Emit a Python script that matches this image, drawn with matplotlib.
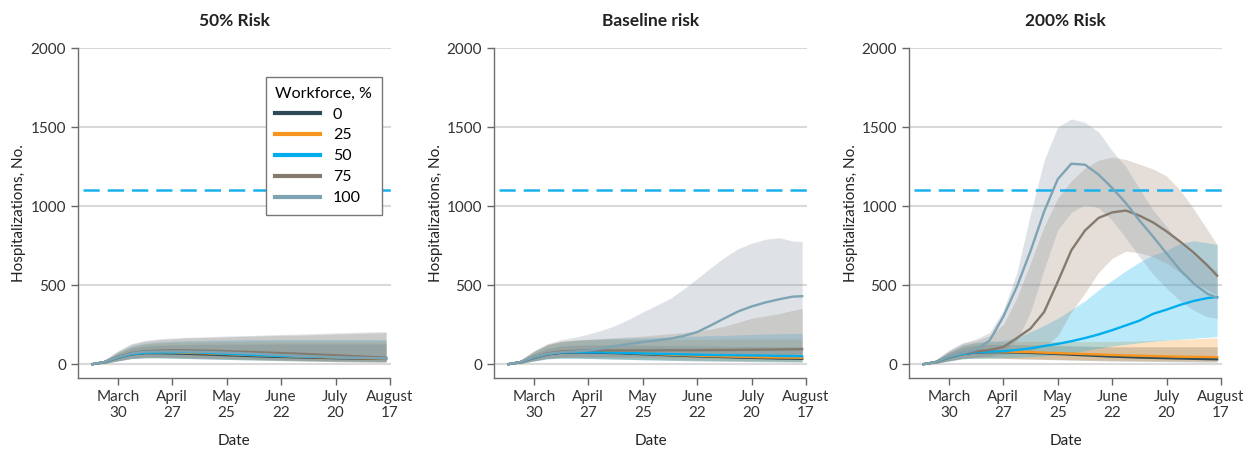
# hospitalization projections by workforce share, three risk scenarios
import numpy as np
import matplotlib
matplotlib.use("Agg")
import matplotlib.pyplot as plt

plt.rcParams['font.family'] = ['Lato', 'DejaVu Sans']

# days since March 30 (tick dates every 4 weeks)
days = [-13, -7, 0, 7, 14, 21, 28, 35, 42, 49, 56, 63, 70, 77, 84, 91, 98, 105, 112, 119, 126, 133, 138]
tick_days = [0, 28, 56, 84, 112, 140]
tick_labels = ["March\n30", "April\n27", "May\n25", "June\n22", "July\n20", "August\n17"]
capacity = 1105

titles = ["50% Risk", "Baseline risk", "200% Risk"]
workforce = ["0", "25", "50", "75", "100"]
line_colors = ["#2e4a56", "#f7941d", "#00aeef", "#857a6e", "#7ea3b3"]
band_colors = ["#3a4f58", "#f7941d", "#00aeef", "#9c8270", "#8597a4"]

# --- 50% risk
r50_med0 = [0, 12, 40, 62, 70, 70, 68, 66, 63, 60, 57, 54, 51, 48, 46, 44, 42, 40, 38, 37, 35, 34, 33]
r50_lo0 = [0, 5, 20, 35, 40, 40, 38, 36, 34, 32, 30, 28, 26, 24, 22, 20, 18, 17, 15, 14, 13, 12, 12]
r50_hi0 = [0, 20, 65, 100, 115, 120, 122, 124, 125, 126, 127, 127, 128, 128, 128, 128, 128, 128, 128, 128, 128, 128, 128]
r50_med25 = [0, 12, 42, 65, 74, 75, 74, 72, 70, 67, 64, 60, 57, 54, 51, 48, 46, 44, 42, 40, 38, 37, 36]
r50_lo25 = [0, 5, 22, 38, 42, 42, 40, 38, 36, 34, 32, 30, 28, 26, 24, 22, 21, 20, 19, 18, 17, 16, 16]
r50_hi25 = [0, 22, 72, 110, 128, 135, 138, 140, 142, 143, 144, 144, 145, 145, 145, 146, 146, 146, 146, 146, 146, 146, 146]
r50_med50 = [0, 12, 41, 63, 72, 74, 74, 76, 74, 70, 66, 62, 58, 55, 52, 50, 48, 46, 44, 43, 42, 40, 38]
r50_lo50 = [0, 5, 21, 36, 40, 40, 38, 36, 34, 32, 30, 28, 27, 26, 25, 24, 23, 22, 21, 20, 19, 18, 18]
r50_hi50 = [0, 24, 75, 115, 132, 140, 145, 148, 150, 152, 153, 154, 155, 155, 156, 156, 156, 156, 156, 156, 156, 156, 155]
r50_med75 = [0, 13, 45, 70, 82, 86, 87, 87, 86, 84, 82, 79, 76, 73, 70, 67, 64, 60, 56, 52, 48, 44, 40]
r50_lo75 = [0, 5, 22, 38, 44, 45, 44, 42, 40, 38, 36, 34, 32, 30, 28, 26, 24, 22, 20, 19, 18, 17, 17]
r50_hi75 = [0, 25, 80, 125, 145, 155, 160, 165, 168, 170, 172, 175, 177, 180, 182, 183, 185, 187, 190, 192, 195, 197, 200]
r50_med100 = [0, 13, 44, 68, 78, 80, 80, 80, 78, 76, 73, 70, 66, 62, 58, 54, 50, 47, 44, 42, 40, 38, 36]
r50_lo100 = [0, 5, 21, 36, 42, 43, 42, 40, 38, 36, 34, 32, 30, 28, 26, 24, 22, 20, 18, 17, 16, 15, 15]
r50_hi100 = [0, 26, 85, 130, 150, 160, 165, 170, 172, 175, 178, 180, 182, 185, 188, 190, 192, 195, 198, 200, 203, 205, 205]

# --- baseline risk
base_med0 = [0, 12, 40, 62, 72, 74, 74, 72, 70, 67, 63, 60, 56, 53, 50, 47, 45, 42, 40, 38, 36, 35, 34]
base_lo0 = [0, 5, 20, 34, 38, 38, 36, 34, 32, 30, 28, 26, 24, 22, 20, 19, 18, 17, 16, 15, 14, 13, 13]
base_hi0 = [0, 20, 65, 100, 115, 120, 122, 122, 122, 121, 120, 118, 117, 116, 115, 114, 113, 112, 112, 111, 110, 110, 110]
base_med25 = [0, 12, 42, 66, 78, 80, 80, 78, 75, 72, 68, 64, 60, 57, 54, 51, 49, 47, 45, 43, 42, 41, 40]
base_lo25 = [0, 5, 22, 38, 42, 42, 40, 38, 36, 34, 32, 30, 28, 26, 25, 24, 23, 22, 21, 20, 19, 18, 18]
base_hi25 = [0, 25, 80, 125, 145, 152, 155, 156, 157, 157, 157, 157, 157, 157, 157, 157, 158, 158, 158, 158, 158, 158, 158]
base_med50 = [0, 12, 41, 64, 74, 76, 76, 75, 73, 71, 68, 66, 64, 62, 60, 58, 57, 56, 55, 54, 52, 51, 50]
base_lo50 = [0, 5, 20, 34, 38, 38, 36, 34, 32, 30, 28, 27, 26, 25, 24, 23, 22, 21, 20, 19, 18, 17, 17]
base_hi50 = [0, 24, 78, 120, 140, 150, 155, 160, 163, 165, 168, 170, 172, 175, 178, 180, 182, 185, 188, 190, 192, 194, 195]
base_med75 = [0, 13, 44, 68, 80, 84, 86, 87, 87, 87, 87, 87, 88, 88, 88, 89, 89, 90, 91, 92, 93, 94, 95]
base_lo75 = [0, 5, 22, 38, 44, 46, 46, 46, 45, 44, 43, 42, 41, 40, 40, 39, 38, 38, 37, 36, 35, 34, 34]
base_hi75 = [0, 25, 82, 125, 145, 152, 158, 162, 168, 172, 178, 185, 192, 200, 210, 222, 240, 265, 290, 305, 320, 340, 352]
base_med100 = [0, 13, 45, 66, 76, 80, 86, 100, 115, 128, 140, 150, 161, 178, 203, 245, 290, 333, 365, 390, 410, 427, 430]
base_lo100 = [0, 5, 22, 38, 44, 46, 46, 47, 48, 49, 50, 51, 52, 53, 54, 55, 56, 57, 58, 59, 60, 60, 60]
base_hi100 = [0, 26, 85, 130, 155, 170, 190, 215, 245, 285, 330, 372, 415, 475, 542, 610, 675, 730, 765, 790, 800, 780, 775]

# --- 200% risk
r200_med0 = [0, 12, 42, 64, 74, 76, 76, 74, 71, 68, 64, 60, 56, 52, 48, 45, 42, 40, 38, 36, 34, 32, 31]
r200_lo0 = [0, 5, 20, 34, 38, 38, 36, 34, 32, 30, 28, 26, 24, 22, 20, 19, 18, 17, 16, 15, 14, 13, 13]
r200_hi0 = [0, 22, 70, 105, 120, 125, 125, 124, 122, 120, 118, 116, 114, 112, 110, 110, 110, 110, 110, 110, 110, 110, 110]
r200_med25 = [0, 12, 43, 66, 77, 80, 80, 78, 76, 73, 70, 67, 64, 61, 58, 55, 53, 51, 49, 47, 46, 45, 44]
r200_lo25 = [0, 5, 22, 36, 40, 40, 38, 36, 34, 32, 30, 28, 27, 26, 25, 24, 23, 22, 22, 21, 21, 20, 20]
r200_hi25 = [0, 24, 75, 115, 135, 140, 142, 143, 143, 143, 143, 143, 143, 143, 144, 145, 147, 150, 153, 157, 160, 164, 167]
r200_med50 = [0, 12, 42, 64, 75, 79, 82, 90, 100, 115, 128, 145, 165, 188, 215, 245, 275, 318, 345, 375, 400, 418, 425]
r200_lo50 = [0, 5, 20, 34, 38, 40, 42, 44, 48, 52, 60, 70, 85, 100, 115, 125, 135, 145, 152, 158, 164, 170, 175]
r200_hi50 = [0, 24, 78, 120, 138, 145, 150, 165, 205, 245, 290, 345, 400, 470, 530, 590, 645, 690, 720, 765, 780, 768, 757]
r200_med75 = [0, 12, 45, 70, 80, 90, 108, 165, 225, 330, 520, 720, 845, 925, 960, 972, 940, 897, 840, 775, 705, 625, 560]
r200_lo75 = [0, 5, 22, 38, 45, 50, 60, 70, 85, 110, 180, 330, 450, 580, 670, 715, 705, 680, 640, 580, 520, 470, 440]
r200_hi75 = [0, 25, 85, 130, 150, 180, 250, 420, 640, 870, 1050, 1160, 1240, 1290, 1310, 1295, 1265, 1235, 1190, 1100, 980, 850, 757]
r200_med100 = [0, 12, 48, 70, 92, 150, 300, 490, 715, 965, 1170, 1268, 1262, 1200, 1115, 1020, 910, 808, 700, 595, 510, 445, 420]
r200_lo100 = [0, 5, 22, 38, 45, 55, 80, 150, 330, 600, 850, 960, 1010, 990, 910, 800, 680, 570, 480, 400, 340, 300, 290]
r200_hi100 = [0, 26, 88, 135, 160, 200, 340, 580, 950, 1290, 1500, 1552, 1530, 1470, 1350, 1250, 1110, 975, 870, 760, 690, 620, 590]

panels = [
    [(r50_med0, r50_lo0, r50_hi0), (r50_med25, r50_lo25, r50_hi25), (r50_med50, r50_lo50, r50_hi50),
     (r50_med75, r50_lo75, r50_hi75), (r50_med100, r50_lo100, r50_hi100)],
    [(base_med0, base_lo0, base_hi0), (base_med25, base_lo25, base_hi25), (base_med50, base_lo50, base_hi50),
     (base_med75, base_lo75, base_hi75), (base_med100, base_lo100, base_hi100)],
    [(r200_med0, r200_lo0, r200_hi0), (r200_med25, r200_lo25, r200_hi25), (r200_med50, r200_lo50, r200_hi50),
     (r200_med75, r200_lo75, r200_hi75), (r200_med100, r200_lo100, r200_hi100)],
]

fig = plt.figure(figsize=(12.51, 4.49), dpi=100)
lefts = [0.0623, 0.3949, 0.7266]
axes = [fig.add_axes([l, 0.158, 0.2502, 0.735]) for l in lefts]

x = np.array(days)
for ax, title, series in zip(axes, titles, panels):
    for yv in [0, 500, 1000, 1500, 2000]:
        ax.axhline(yv, color="#d9d9d9", lw=1.5, zorder=0)
    for (med, lo, hi), bc in zip(series, band_colors):
        ax.fill_between(x, lo, hi, color=bc, alpha=0.27, lw=0, zorder=1)
    for (med, lo, hi), lc, lab in zip(series, line_colors, workforce):
        ax.plot(x, med, color=lc, lw=1.7, label=lab, zorder=3)
    ax.axhline(capacity, xmin=0.015, color="#1ab1ec", lw=1.8, ls=(0, (6.5, 3.2)), zorder=2)

    ax.set_xlim(-20.5, 140.5)
    ax.set_ylim(-88, 2000)
    ax.set_xticks(tick_days)
    ax.set_xticklabels(tick_labels, linespacing=1.2)
    ax.set_yticks([0, 500, 1000, 1500, 2000])
    ax.tick_params(labelsize=11, colors="#333333", length=5, color="#666666", width=1)
    for s in ["top", "right"]:
        ax.spines[s].set_visible(False)
    for s in ["left", "bottom"]:
        ax.spines[s].set_color("#6d6d6d")
        ax.spines[s].set_linewidth(1)
    ax.spines["bottom"].set_bounds(-20.5, 140)
    ax.set_title(title, fontsize=12.5, fontweight="bold", color="#222222", pad=16)
    ax.set_ylabel("Hospitalizations, No.", fontsize=11, color="#222222", labelpad=3)
    ax.set_xlabel("Date", fontsize=11, color="#222222", labelpad=10)

leg = axes[0].legend(title="Workforce, %", loc="upper left", bbox_to_anchor=(0.60, 0.912),
                     borderaxespad=0, fontsize=11.5, title_fontsize=11.5, handlelength=2.8,
                     labelspacing=0.42, fancybox=False, framealpha=1, edgecolor="#777777",
                     alignment="left", borderpad=0.6)
leg.get_frame().set_linewidth(1)
for line in leg.get_lines():
    line.set_linewidth(3)

fig.savefig("out.png", dpi=100)
